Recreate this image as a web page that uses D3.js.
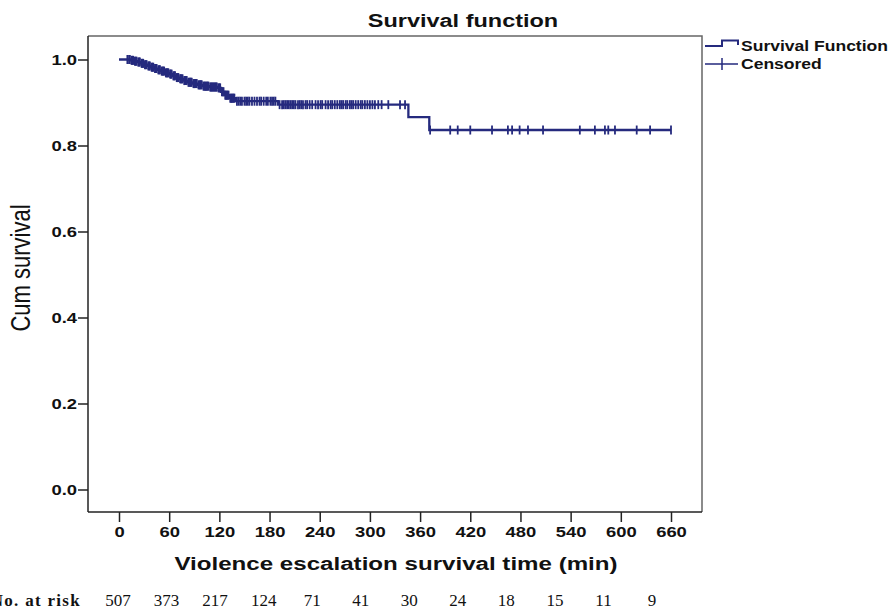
<!DOCTYPE html>
<html>
<head>
  <meta charset="utf-8">
  <style>
    body { margin: 0; background: #fff; }
    svg { display: block; }
  </style>
</head>
<body>
<script src="https://d3js.org/d3.v7.min.js"></script>
<script>

// Kaplan-Meier steps (time in min, survival after the step)
var stepTimes = [0, 14, 18, 22, 26, 30, 34, 38, 42, 46, 50, 55, 60, 64, 68, 72, 77, 82, 88, 94, 100, 108, 118, 122, 126, 132, 140, 190, 346, 371];
var stepSurvival = [1.0, 0.998, 0.996, 0.994, 0.991, 0.988, 0.985, 0.982, 0.979, 0.976, 0.973, 0.969, 0.966, 0.962, 0.958, 0.955, 0.951, 0.947, 0.944, 0.941, 0.938, 0.936, 0.934, 0.925, 0.917, 0.910, 0.903, 0.895, 0.866, 0.836];
var lastTime = 660;

// censored observations (times)
var censoredTimes = [10, 12, 13, 15, 16, 17, 19, 20, 21, 23, 24, 25, 27, 28, 29, 31, 32, 33, 35, 36, 37, 39, 40, 41, 43, 44, 45,
  47, 48, 49, 51, 52, 53, 54, 56, 57, 58, 59, 61, 62, 63, 65, 66, 67, 69, 70, 71, 73, 74, 75, 76, 78, 79, 80, 81, 83, 84, 85, 86,
  87, 89, 90, 91, 92, 93, 95, 96, 97, 98, 99, 101, 102, 103, 104, 105, 106, 107, 109, 110, 111, 112, 113, 114, 115, 116, 117, 119,
  120, 121, 123, 124, 125, 127, 128, 129, 130, 131, 133, 134, 135, 136, 137, 138, 141, 143, 145, 147, 150, 152, 154, 156, 159, 162,
  165, 168, 170, 173, 176, 178, 181, 183, 185, 187, 192, 195, 197, 199, 201, 203, 205, 207, 209, 211, 214, 216, 218, 220, 223, 225,
  228, 231, 235, 238, 241, 243, 247, 250, 253, 255, 258, 261, 264, 266, 268, 271, 273, 276, 278, 280, 283, 286, 289, 291, 294, 297,
  300, 303, 306, 310, 314, 322, 336, 342, 372, 396, 405, 420, 446, 465, 470, 479, 489, 507, 551, 569, 581, 585, 593, 619, 635, 660];

var xTicks = [0, 60, 120, 180, 240, 300, 360, 420, 480, 540, 600, 660];
var yTicks = [0.0, 0.2, 0.4, 0.6, 0.8, 1.0];
var atRisk = [507, 373, 217, 124, 71, 41, 30, 24, 18, 15, 11, 9];

var W = 892, H = 611;
var navy = "#252a7e";
var stretch = 1.27;   // the original picture is widened horizontally
var sansFont = "'Liberation Sans', Arial, sans-serif";
var serifFont = "'Liberation Serif', 'Times New Roman', serif";

var svg = d3.select("body").append("svg")
    .attr("width", W)
    .attr("height", H);

var x = d3.scaleLinear().domain([0, 660]).range([119, 671]);
var y = d3.scaleLinear().domain([0, 1]).range([489.5, 59.5]);

var frame = {left: 88, right: 702, top: 36, bottom: 512};

// frame (top & right)
svg.append("path")
    .attr("d", "M" + frame.left + "," + frame.top + "H" + frame.right + "V" + frame.bottom)
    .attr("fill", "none")
    .attr("stroke", "#666")
    .attr("stroke-width", 1.5);

// axes
var yAxis = svg.append("g")
    .attr("transform", "translate(" + frame.left + ",0)")
    .call(d3.axisLeft(y).tickValues(yTicks).tickFormat(d3.format(".1f")).tickSize(10).tickSizeOuter(0));
var xAxis = svg.append("g")
    .attr("transform", "translate(0," + frame.bottom + ")")
    .call(d3.axisBottom(x).tickValues(xTicks).tickSize(10).tickSizeOuter(0));

yAxis.select(".domain").attr("d", "M0," + frame.top + "V" + frame.bottom);
xAxis.select(".domain").attr("d", "M" + frame.left + ",0H" + frame.right);
svg.selectAll(".domain").attr("stroke", "#222").attr("stroke-width", 1.5);
svg.selectAll(".tick line").attr("stroke", "#222").attr("stroke-width", 1.5);

yAxis.selectAll(".tick text")
    .attr("x", null).attr("dy", null)
    .attr("transform", "translate(-11,5) scale(" + stretch + ",1)")
    .style("font", "bold 14.5px " + sansFont).attr("fill", "#111");
xAxis.selectAll(".tick text")
    .attr("y", null).attr("dy", null)
    .attr("transform", "translate(0,25) scale(" + stretch + ",1)")
    .style("font", "bold 14.5px " + sansFont).attr("fill", "#111");

// survival step curve
var curvePoints = stepTimes.map(function(t, i) { return {t: t, s: stepSurvival[i]}; });
curvePoints.push({t: lastTime, s: stepSurvival[stepSurvival.length - 1]});

var line = d3.line()
    .x(function(d) { return x(d.t); })
    .y(function(d) { return y(d.s); })
    .curve(d3.curveStepAfter);

svg.append("path")
    .attr("d", line(curvePoints))
    .attr("fill", "none")
    .attr("stroke", navy)
    .attr("stroke-width", 2.3);

function survivalAt(t) {
  var s = 1;
  for (var i = 0; i < stepTimes.length; i++) {
    if (stepTimes[i] <= t) s = stepSurvival[i];
  }
  return s;
}

svg.append("g").selectAll("line")
    .data(censoredTimes)
    .enter().append("line")
    .attr("x1", function(d) { return x(d); })
    .attr("x2", function(d) { return x(d); })
    .attr("y1", function(d) { return y(survivalAt(d)) - 4.5; })
    .attr("y2", function(d) { return y(survivalAt(d)) + 4.5; })
    .attr("stroke", navy)
    .attr("stroke-width", 1.8);

// helper for widened text
function wideText(tx, ty, str, font, anchor, rot) {
  return svg.append("text")
      .attr("transform", "translate(" + tx + "," + ty + ") scale(" + stretch + ",1)" + (rot ? " rotate(" + rot + ")" : ""))
      .attr("text-anchor", anchor || "middle")
      .style("font", font)
      .attr("fill", "#111")
      .text(str);
}

wideText(463, 27, "Survival function", "bold 18.5px " + sansFont);
wideText(396, 570, "Violence escalation survival time (min)", "bold 19px " + sansFont);
wideText(30, 268, "Cum survival", "22px " + sansFont, "middle", -90);

// legend
var legend = svg.append("g");
legend.append("path")
    .attr("d", "M705,46H722V40.5H738V45")
    .attr("fill", "none").attr("stroke", navy).attr("stroke-width", 2);
legend.append("path")
    .attr("d", "M705,64H738M722,58V70")
    .attr("fill", "none").attr("stroke", navy).attr("stroke-width", 1.5);
wideText(741, 51, "Survival Function", "bold 13.8px " + sansFont, "start");
wideText(741, 69, "Censored", "bold 13.8px " + sansFont, "start");

// numbers at risk
var riskX = d3.scalePoint().domain(d3.range(atRisk.length)).range([118, 652]);
svg.append("text")
    .attr("x", 81).attr("y", 606)
    .attr("text-anchor", "end")
    .style("font", "bold 17px " + serifFont)
    .style("letter-spacing", "1.3px")
    .attr("fill", "#111")
    .text("No. at risk");
svg.append("g").selectAll("text")
    .data(atRisk)
    .enter().append("text")
    .attr("x", function(d, i) { return riskX(i); })
    .attr("y", 606)
    .attr("text-anchor", "middle")
    .style("font", "17px " + serifFont)
    .attr("fill", "#111")
    .text(function(d) { return d; });

</script>
</body>
</html>
